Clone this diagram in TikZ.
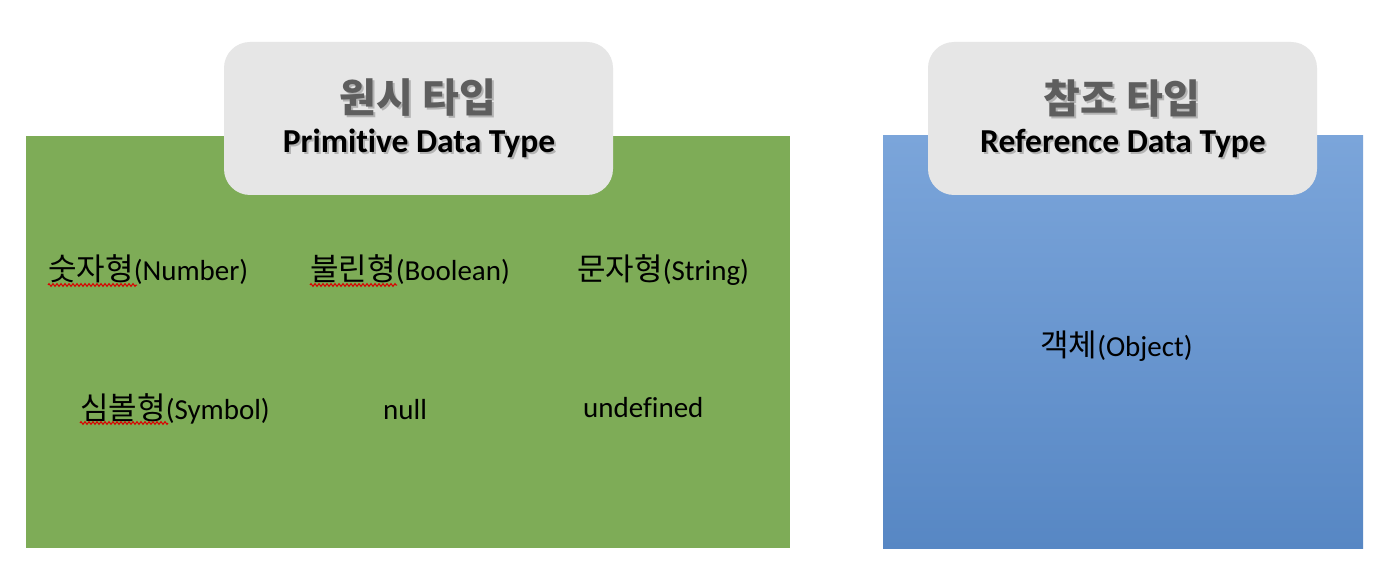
\documentclass[tikz,border=0pt]{standalone}
\usepackage{fontspec}
\setmainfont{Carlito}[Ligatures={NoCommon}]
\newfontfamily\kr{Noto Sans CJK KR}
\usetikzlibrary{decorations.pathmorphing}
\definecolor{greenbg}{HTML}{7EAC57}
\definecolor{bluetop}{HTML}{7BA5DA}
\definecolor{bluebot}{HTML}{5787C4}
\definecolor{graybox}{HTML}{E6E6E6}
\definecolor{titlegray}{HTML}{5E5E5E}
\newcommand{\krtext}[1]{{\kr\fontsize{31}{32}\selectfont #1}}
\tikzset{
  item/.style={inner sep=0pt, anchor=west, font=\fontsize{29}{31}\selectfont},
  titlebox/.style={fill=graybox, draw=none, rounded corners=26pt},
  krtitle/.style={inner sep=0pt, text=titlegray, font=\kr\bfseries\fontsize{40}{42}\selectfont},
  entitle/.style={inner sep=0pt, font=\bfseries\fontsize{33.5}{35}\selectfont},
  squig/.style={draw=red!85!black, line width=1pt, decorate, decoration={zigzag, segment length=4pt, amplitude=1.4pt}}
}
\begin{document}
\begin{tikzpicture}[x=1pt,y=-1pt]
\useasboundingbox (0,0) rectangle (1398,572);
\fill[white] (0,0) rectangle (1398,572);
% panels
\fill[greenbg] (26,136) rectangle (790,548);
\shade[top color=bluetop, bottom color=bluebot] (883,136) rectangle (1363,548);
% title boxes
\path[titlebox] (224,42) rectangle (613,195);
\path[titlebox] (928,42) rectangle (1317,195);
% titles
\node[krtitle, text=black, opacity=0.22] at (420,100) {원시 타입};
\node[krtitle] (t1k) at (418,98) {원시 타입};
\node[entitle, text=black, opacity=0.22] at (421,145) {Primitive Data Type};
\node[entitle] (t1e) at (419,143) {Primitive Data Type};
\node[krtitle, text=black, opacity=0.22] at (1124,100) {참조 타입};
\node[krtitle] (t2k) at (1122,98) {참조 타입};
\node[entitle, text=black, opacity=0.22] at (1125,145) {Reference Data Type};
\node[entitle] (t2e) at (1123,143) {Reference Data Type};
% items
\node[item] (num) at (48,270) {\krtext{숫자형}(Number)};
\node[item] (bool) at (310,270) {\krtext{불린형}(Boolean)};
\node[item] (str) at (577,270) {\krtext{문자형}(String)};
\node[item] (sym) at (80,409) {\krtext{심볼형}(Symbol)};
\node[item] (nul) at (383,410) {null};
\node[item] (und) at (583,408) {undefined};
\node[item] (obj) at (1040,346) {\krtext{객체}(Object)};
% spell-check squiggles
\coordinate (s1a) at (48,285); \coordinate (s1b) at (137,285);
\coordinate (s2a) at (310,285); \coordinate (s2b) at (397,285);
\coordinate (s3a) at (80,423); \coordinate (s3b) at (168,423);
\draw[squig] (s1a) -- (s1b);
\draw[squig] (s2a) -- (s2b);
\draw[squig] (s3a) -- (s3b);
\end{tikzpicture}
\end{document}
